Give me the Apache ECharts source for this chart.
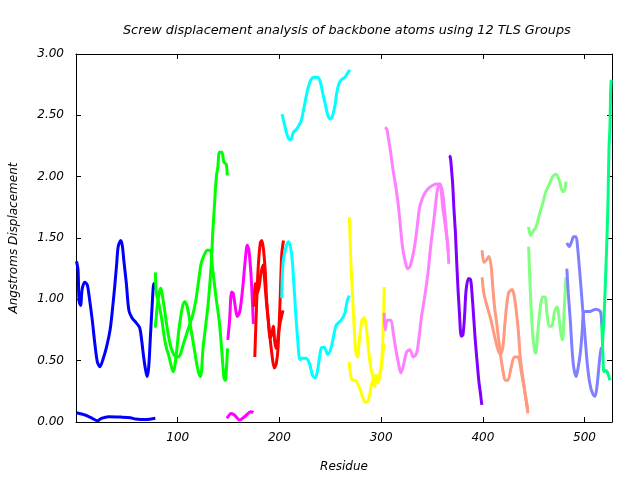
<!DOCTYPE html>
<html>
<head>
<meta charset="utf-8">
<script src="https://cdn.jsdelivr.net/npm/echarts@6/dist/echarts.min.js"></script>
<style>html,body{margin:0;padding:0;background:#fff}#c{width:640px;height:480px}</style>
</head>
<body>
<div id="c"></div>
<script>
// Data: [residue, displacement (Å)]
const blue1 = [[0.5,1.31],[2,1.24],[3,0.99],[4.5,0.95],[6,1.08],[8.5,1.14],[11,1.12],[13,1.02],[16,0.83],[18.5,0.64],[21,0.49],[23.5,0.45],[26.5,0.51],[30,0.61],[33.5,0.75],[35.5,0.89],[38,1.10],[40,1.29],[41.5,1.43],[44,1.48],[45.5,1.44],[47,1.32],[49.5,1.13],[52,0.91],[55,0.85],[59,0.81],[62.5,0.77],[64.5,0.67],[66.5,0.53],[68.5,0.42],[70,0.37],[71.5,0.45],[73,0.67],[75,0.97],[76.5,1.13],[77.5,1.08]];
const blue2 = [[0.5,0.076],[9,0.057],[16,0.03],[21,0.01],[25,0.03],[32,0.043],[44,0.04],[53.5,0.035],[58.5,0.025],[69,0.02],[78,0.03]];
const green1 = [[78,1.22],[79,1.05],[81,0.98],[83,0.90],[85,0.80],[87,0.68],[89,0.60],[91,0.55],[93,0.48],[95.5,0.41],[97,0.45],[99,0.58],[101,0.74],[103,0.86],[105,0.95],[107,0.98],[109,0.95],[111,0.87],[113,0.76],[115,0.66],[117,0.56],[119,0.46],[121,0.39],[122.5,0.37],[125,0.61],[128,0.82],[130,0.97],[133,1.29],[134.5,1.55],[136,1.75],[138,2.0],[139.5,2.08],[141,2.2],[143.4,2.2],[145.4,2.12],[147.7,2.10],[148.7,2.01]];
const green2 = [[78,0.77],[80,0.95],[82,1.06],[83.5,1.09],[85,1.03],[87,0.92],[89,0.80],[91,0.70],[93,0.62],[95,0.57],[97,0.54],[100,0.53],[102.5,0.55],[105,0.62],[110,0.75],[115,0.88],[118,1.0],[121,1.18],[123,1.29],[126,1.36],[129,1.40],[132,1.40],[134,1.27],[137.6,1.02],[141,0.81],[143.5,0.56],[145.5,0.36],[146.8,0.34],[148,0.45],[149,0.60]];
const magenta1 = [[149.3,0.67],[151,0.83],[153,1.06],[154.5,1.05],[156.6,0.94],[158.5,0.86],[161,0.90],[164,1.10],[166.4,1.32],[168.4,1.44],[170,1.40],[172,1.21],[173.4,0.99],[174.4,0.80]];
const magenta2 = [[148.4,0.03],[152.7,0.07],[156,0.055],[161,0.016],[166,0.045],[172,0.084],[174.4,0.076]];
const red1 = [[175.8,0.53],[177,0.83],[179,1.24],[181.2,1.46],[182.7,1.48],[184.4,1.40],[186,1.24],[187.6,0.97],[190,0.75],[192.5,0.56],[195,0.44],[197,0.48],[198.7,0.61],[200.7,1.0],[202.3,1.37],[204,1.48]];
const red2 = [[175,0.94],[176,1.13],[178,1.05],[180,1.10],[182,1.22],[184,1.28],[185.5,1.15],[187,1.00],[189,0.83],[191,0.68],[192.5,0.72],[194,0.78],[195.5,0.65],[197,0.60],[199,0.72],[201,0.82],[203.5,0.91]];
const cyan1 = [[202.6,2.51],[204,2.46],[206.6,2.37],[209,2.31],[211,2.30],[213.7,2.36],[217,2.39],[219.3,2.42],[221.6,2.46],[223.6,2.54],[226,2.64],[228.4,2.73],[231,2.79],[234.2,2.81],[237.6,2.81],[240.3,2.77],[242.6,2.68],[245.4,2.58],[247.6,2.50],[250,2.47],[252,2.49],[254.6,2.58],[256.3,2.68],[258.6,2.76],[261,2.79],[264.4,2.81],[266.7,2.84],[269.3,2.87]];
const cyan2 = [[202.3,1.01],[203.5,1.29],[206.6,1.43],[209,1.47],[212,1.37],[214.4,1.10],[216,0.89],[218,0.67],[220.3,0.51],[223,0.52],[226,0.52],[229.4,0.48],[232.6,0.38],[235,0.36],[237.5,0.42],[241,0.60],[244,0.61],[247.6,0.55],[251,0.61],[255.9,0.79],[260.8,0.83],[264.4,0.89],[266.7,0.99],[268.7,1.03]];
const yellow1 = [[268.7,1.67],[269.5,1.50],[270.3,1.29],[272,1.02],[273.6,0.75],[275.3,0.56],[277,0.53],[278.6,0.67],[281.2,0.83],[283.6,0.85],[285.3,0.78],[287,0.64],[288.7,0.51],[290.4,0.42],[292,0.37],[293.8,0.29],[295.4,0.37],[297,0.32],[298.7,0.37],[300.4,0.48],[302,0.75],[303,1.10]];
const yellow2 = [[268.6,0.49],[270.3,0.37],[272,0.34],[274.5,0.34],[277,0.31],[279.6,0.26],[282.3,0.19],[285,0.16],[287,0.17],[288.7,0.22],[290.4,0.30],[292,0.34],[294.8,0.38],[297,0.37],[299.5,0.42],[301.4,0.53],[302.7,0.64]];
const pink1 = [[303.6,2.40],[305.5,2.39],[307.4,2.30],[309.5,2.19],[311.8,2.05],[314.4,1.92],[316.7,1.78],[318.7,1.62],[321,1.43],[323.4,1.32],[326,1.25],[328.4,1.27],[331,1.35],[333.4,1.46],[336,1.63],[337.6,1.74],[340,1.81],[342.6,1.86],[345.9,1.90],[350.8,1.93],[355.7,1.94],[357.5,1.94],[359,1.89],[360.6,1.75],[362,1.67],[364,1.54],[365.5,1.45],[366.5,1.29]];
const pink2 = [[303,0.89],[304,0.75],[306,0.83],[309.5,0.83],[312,0.72],[314.5,0.59],[317,0.48],[319.3,0.40],[321.6,0.45],[325,0.57],[328.2,0.59],[331.5,0.53],[334.8,0.56],[337,0.67],[339.7,0.86],[342.8,1.02],[346,1.21],[348.7,1.43],[351,1.59],[352.6,1.70],[355.5,1.90],[358,1.94],[360.6,1.86],[363,1.67],[365,1.48],[366,1.38]];
const purple1 = [[366.7,2.17],[368,2.16],[369.5,2.03],[370.5,1.92],[371.5,1.75],[373,1.55],[373.8,1.40],[375.5,1.10],[377,0.89],[378.8,0.70],[380.4,0.71],[382,0.86],[383.6,1.08],[386,1.17],[388,1.16],[389.6,1.02],[391.2,0.83],[392.8,0.64],[394.5,0.48],[396,0.34],[397.7,0.23],[399,0.14]];
const salmon1 = [[399.3,1.40],[401,1.30],[403.4,1.32],[405.9,1.35],[408.2,1.27],[409.8,1.10],[411.5,0.94],[414,0.78],[416.4,0.61],[418,0.51],[420,0.41],[422,0.34],[424.5,0.34],[428,0.45],[431,0.53],[434.5,0.53],[438,0.40],[441,0.26],[444.3,0.07]];
const salmon2 = [[399.3,1.18],[401,1.05],[404.3,0.94],[408,0.83],[411.5,0.70],[414.5,0.60],[417,0.55],[419.5,0.60],[422,0.83],[425.2,1.05],[428.7,1.08],[431,1.02],[434.5,0.78],[437,0.51],[439.2,0.37],[441.6,0.23],[444.3,0.10]];
const lgreen1 = [[445,1.59],[446.7,1.52],[449,1.55],[452.3,1.59],[455.6,1.69],[458.8,1.78],[462,1.88],[465.4,1.94],[468.6,2.00],[472,2.02],[475.2,1.97],[478.4,1.88],[480,1.88],[481.7,1.96]];
const lgreen2 = [[445,1.43],[446,1.21],[447.4,0.94],[449,0.72],[450.7,0.59],[452,0.56],[453.9,0.72],[456.6,0.94],[458.8,1.02],[461.2,1.02],[463,0.89],[465.4,0.78],[467.7,0.78],[470.3,0.89],[473,0.94],[475.2,0.83],[476.8,0.72],[478.4,0.67],[480,0.91],[481.7,1.18]];
const peri1 = [[482.6,1.46],[485,1.43],[487.3,1.47],[489.3,1.51],[491.6,1.51],[493.1,1.43],[494.8,1.27],[496.5,1.10],[498,0.94],[499.7,0.78],[501.3,0.61],[503,0.45],[505.3,0.31],[508,0.23],[510.3,0.21],[512.2,0.29],[513.8,0.42],[515.5,0.56],[516.7,0.61]];
const peri2 = [[482.6,1.25],[484,1.05],[486,0.83],[487.6,0.61],[489.3,0.45],[491.6,0.37],[493,0.41],[495.8,0.56],[497.8,0.75],[499,0.89],[501.3,0.90],[504.6,0.90],[508,0.91],[511.3,0.92],[514.4,0.91],[516,0.89],[517,0.78]];
const spring1 = [[516.9,0.80],[517.5,0.67],[518,0.56],[519,0.41],[520.7,0.42],[522.2,0.41],[523.9,0.37],[525,0.34]];
const spring2 = [[517.6,0.64],[519,0.83],[520.7,1.18],[522.2,1.54],[523.2,1.86],[524,2.22],[525,2.41],[525.6,2.68],[526.2,2.79]];

const curves = [
  [blue1,'#0000ff'],[blue2,'#0000ff'],
  [green1,'#00ff00'],[green2,'#00ff00'],
  [magenta1,'#ff00ff'],[magenta2,'#ff00ff'],
  [red1,'#ff0000'],[red2,'#ff0000'],
  [cyan1,'#00ffff'],[cyan2,'#00ffff'],
  [yellow1,'#ffff00'],[yellow2,'#ffff00'],
  [pink1,'#ff80ff'],[pink2,'#ff80ff'],
  [purple1,'#8000ff'],
  [salmon1,'#ff9980'],[salmon2,'#ff9980'],
  [lgreen1,'#80ff80'],[lgreen2,'#80ff80'],
  [peri1,'#8080ff'],[peri2,'#8080ff'],
  [spring1,'#00ff80'],[spring2,'#00ff80']
];

const FONT = 'DejaVu Sans';
const txt = {fontFamily: FONT, fontStyle: 'italic', fontSize: 12, color: '#000'};

const chart = echarts.init(document.getElementById('c'), null, {renderer: 'canvas'});
chart.setOption({
  animation: false,
  backgroundColor: '#fff',
  title: {text: 'Screw displacement analysis of backbone atoms using 12 TLS Groups', left: 118, top: 19,
    textStyle: Object.assign({}, txt, {fontWeight: 'normal', fontSize: 12.8})},
  grid: {left: 76, right: 28, top: 54, bottom: 58},
  xAxis: [{
    type: 'value', min: 0, max: 527, interval: 100,
    name: 'Residue', nameLocation: 'middle', nameGap: 39, nameTextStyle: txt,
    axisLine: {show: true, onZero: false, lineStyle: {color: '#000', width: 1}},
    axisTick: {show: true, inside: true, length: 5, lineStyle: {color: '#000'}},
    axisLabel: Object.assign({}, txt, {margin: 10, showMaxLabel: false, showMinLabel: false,
      formatter: v => (v > 0 && v % 100 === 0 ? String(v) : '')}),
    splitLine: {show: false}
  }, {
    type: 'value', position: 'top', min: 0, max: 527, interval: 100,
    axisLine: {show: true, onZero: false, lineStyle: {color: '#000', width: 1}},
    axisTick: {show: true, inside: true, length: 5, lineStyle: {color: '#000'}},
    axisLabel: {show: false}, splitLine: {show: false}
  }],
  yAxis: [{
    type: 'value', min: 0, max: 3, interval: 0.5,
    name: 'Angstroms Displacement', nameLocation: 'middle', nameGap: 56, nameTextStyle: txt,
    axisLine: {show: true, onZero: false, lineStyle: {color: '#000', width: 1}},
    axisTick: {show: true, inside: true, length: 5, lineStyle: {color: '#000'}},
    axisLabel: Object.assign({}, txt, {margin: 12, formatter: v => v.toFixed(2)}),
    splitLine: {show: false}
  }, {
    type: 'value', position: 'right', min: 0, max: 3, interval: 0.5,
    axisLine: {show: true, onZero: false, lineStyle: {color: '#000', width: 1}},
    axisTick: {show: true, inside: true, length: 5, lineStyle: {color: '#000'}},
    axisLabel: {show: false}, splitLine: {show: false}
  }],
  series: curves.map(([d, col]) => ({
    type: 'line', data: d, xAxisIndex: 0, yAxisIndex: 0,
    showSymbol: false, smooth: 0.3, clip: true,
    lineStyle: {color: col, width: 3}, itemStyle: {color: col}
  }))
});
</script>
</body>
</html>
